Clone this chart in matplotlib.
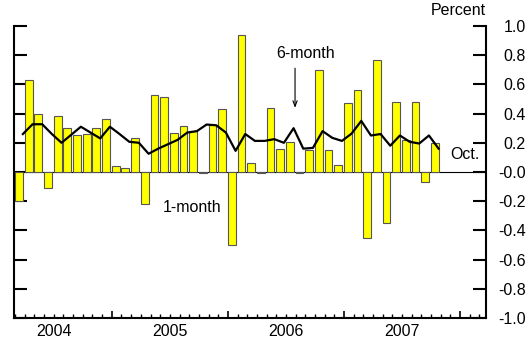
import matplotlib
matplotlib.use("Agg")
from matplotlib import pyplot as plt

plt.rcParams["font.family"] = ["Liberation Sans", "DejaVu Sans"]

# month index counted from Jan 2004 = 0, data runs Mar 2004 .. Oct 2007
first_month = 2
one_month = [-0.20, 0.63, 0.40, -0.11, 0.385, 0.30, 0.25, 0.26, 0.30, 0.36,
             0.04, 0.03, 0.23, -0.22, 0.53, 0.515, 0.27, 0.315, 0.28, -0.005,
             0.32, 0.43, -0.50, 0.94, 0.06, -0.01, 0.44, 0.155, 0.205, -0.005,
             0.15, 0.70, 0.15, 0.045, 0.475, 0.565, -0.455, 0.77, -0.35, 0.48,
             0.22, 0.48, -0.07, 0.20]
six_month = [0.26, 0.327, 0.327, 0.26, 0.20, 0.255, 0.31, 0.27, 0.23, 0.31,
             0.26, 0.207, 0.20, 0.125, 0.16, 0.19, 0.22, 0.27, 0.28, 0.325,
             0.32, 0.27, 0.145, 0.26, 0.213, 0.213, 0.225, 0.20, 0.30, 0.16,
             0.165, 0.28, 0.234, 0.213, 0.263, 0.35, 0.25, 0.26, 0.18, 0.25,
             0.207, 0.195, 0.25, 0.16]
years = [2004, 2005, 2006, 2007]
y_ticks = [-1.0, -0.8, -0.6, -0.4, -0.2, 0.0, 0.2, 0.4, 0.6, 0.8, 1.0]
y_labels = ["-1.0", "-0.8", "-0.6", "-0.4", "-0.2", "-0.0",
            "0.2", "0.4", "0.6", "0.8", "1.0"]

months = list(range(first_month, first_month + len(one_month)))

fig = plt.figure(figsize=(5.32, 3.41), dpi=100)
ax = fig.add_axes([0.0263, 0.0674, 0.8872, 0.8564])

ax.axhline(0, color="black", lw=0.8, zorder=1)
ax.bar(months, one_month, width=0.8, align="edge", color="#ffff00",
       edgecolor="#555555", linewidth=0.8, zorder=2)
ax.plot([m + 0.8 for m in months], six_month, color="black", lw=1.6, zorder=3)

ax.set_xlim(1.88, 50.7)
ax.set_ylim(-1.0, 1.0)

# x axis: long ticks at year starts, short ones every month
ax.set_xticks([12 * (y - 2004) for y in years[1:]] + [48])
ax.set_xticks(range(2, 51), minor=True)
ax.tick_params(axis="x", which="major", direction="in", length=5, width=1.2,
               labelbottom=False)
ax.tick_params(axis="x", which="minor", direction="in", length=3, width=1.0)
for y in years:
    ax.text(12 * (y - 2004) + 6, -1.09, str(y), ha="center", va="center",
            fontsize=11.5, clip_on=False)

ax.set_yticks(y_ticks)
ax.set_yticklabels(y_labels)
ax.tick_params(axis="y", which="major", direction="in", length=9.4, width=1.5,
               left=True, right=True, labelleft=False, labelright=True,
               pad=28.8, labelsize=11.5)
for lab in ax.get_yticklabels():
    lab.set_horizontalalignment("right")

ax.spines["top"].set_visible(False)
for s in ["left", "right", "bottom"]:
    ax.spines[s].set_linewidth(1.5)

ax.text(32.08, 0.81, "6-month", ha="center", va="center", fontsize=11.5)
ax.annotate("", xy=(30.95, 0.42), xytext=(30.95, 0.73),
            arrowprops=dict(arrowstyle="->,head_length=0.4,head_width=0.15",
                            color="black", lw=0.8))
ax.text(20.29, -0.243, "1-month", ha="center", va="center", fontsize=11.5)
ax.text(48.53, 0.12, "Oct.", ha="center", va="center", fontsize=11.5)
ax.text(47.8, 1.106, "Percent", ha="center", va="center", fontsize=11.5,
        clip_on=False)

fig.savefig("out.png", dpi=100)
